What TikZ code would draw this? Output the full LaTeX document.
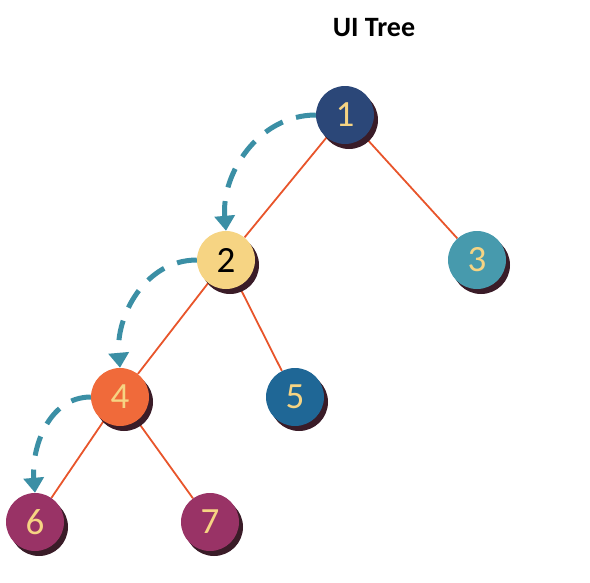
\documentclass[tikz,border=0pt]{standalone}
\usepackage{fontspec}
\setmainfont{Carlito}
\usepackage{tikz}
\usetikzlibrary{shadows,arrows.meta,backgrounds}
\definecolor{navy}{HTML}{2B4778}
\definecolor{sand}{HTML}{F6D483}
\definecolor{teal}{HTML}{479AAD}
\definecolor{flame}{HTML}{F06A3A}
\definecolor{ocean}{HTML}{1F6796}
\definecolor{plum}{HTML}{993366}
\definecolor{shade}{HTML}{3A1C28}
\definecolor{edgec}{HTML}{E8552B}
\definecolor{walk}{HTML}{3B8FA5}

\begin{document}
\begin{tikzpicture}[x=1pt,y=-1pt,
    vnode/.style={circle,minimum size=58pt,inner sep=0pt,text=sand,
      font=\fontsize{37}{37}\selectfont,
      drop shadow={shadow xshift=4pt,shadow yshift=-5pt,fill=shade,opacity=1}},
    treeedge/.style={edgec,line width=1.8pt},
    visit/.style={walk,line width=5pt,dash pattern=on 20pt off 14pt,
      -{Triangle[width=20pt,length=15pt]}}]
    \useasboundingbox (0,0) rectangle (590,582);
    \node[font=\bfseries\fontsize{28}{28}\selectfont] (title) at (374,28) {UI Tree};
    \node[vnode,fill=navy]  (n1) at (345,115) {1};
    \node[vnode,fill=sand,text=black] (n2) at (226,260) {2};
    \node[vnode,fill=teal]  (n3) at (477,260) {3};
    \node[vnode,fill=flame] (n4) at (120,397) {4};
    \node[vnode,fill=ocean] (n5) at (295,397) {5};
    \node[vnode,fill=plum]  (n6) at (35,522) {6};
    \node[vnode,fill=plum]  (n7) at (210,522) {7};
    \begin{scope}[on background layer]
        \draw[treeedge] (n1) -- (n2) (n1) -- (n3) (n2) -- (n4) (n2) -- (n5) (n4) -- (n6) (n4) -- (n7);
    \end{scope}
    \draw[visit] (n1.west) to[out=180,in=95] (n2.north);
    \draw[visit] (n2.west) to[out=180,in=95] (n4.north);
    \draw[visit] (n4.west) to[out=180,in=95] (n6.north);
\end{tikzpicture}
\end{document}
